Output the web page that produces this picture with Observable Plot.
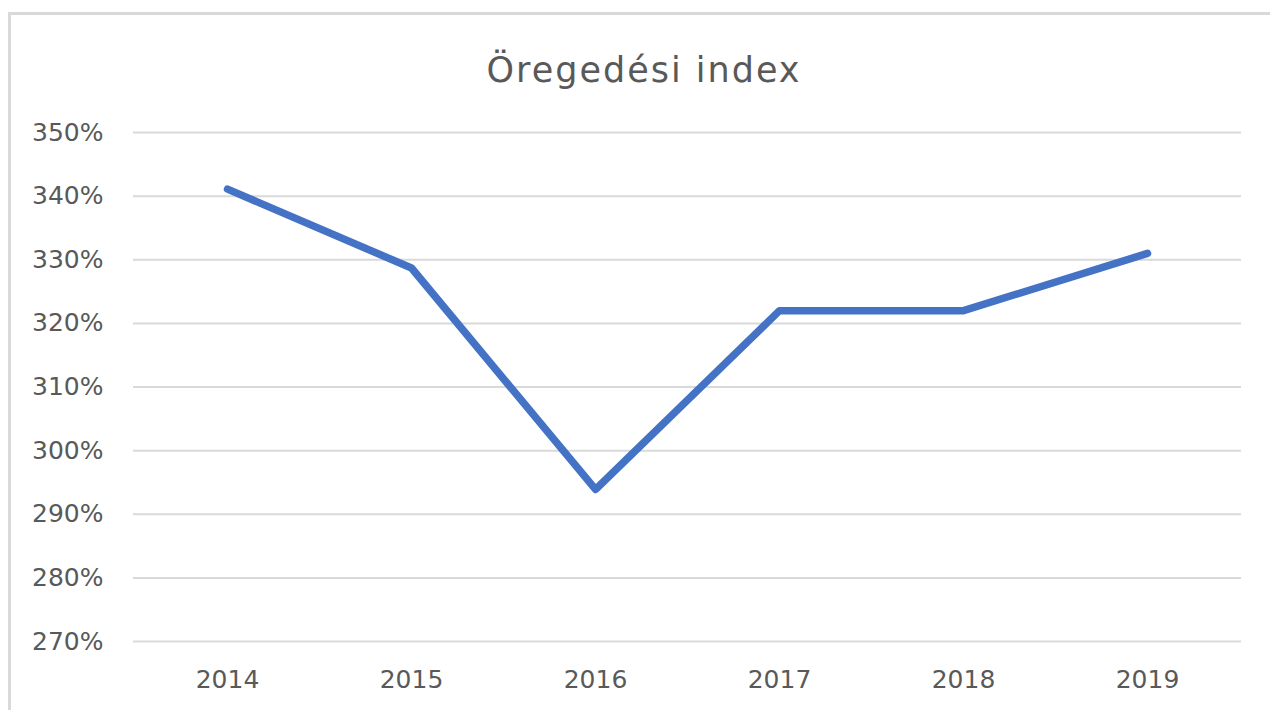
<!DOCTYPE html>
<html>
<head>
<meta charset="utf-8">
<script src="https://cdn.jsdelivr.net/npm/d3@7"></script>
<script src="https://cdn.jsdelivr.net/npm/@observablehq/plot@0.6"></script>
<style>
  html, body { margin: 0; padding: 0; background: #ffffff; overflow: hidden; }
  #frame { position: absolute; left: 8px; top: 12px; width: 1300px; height: 720px;
           border-left: 3px solid #d9d9d9; border-top: 3px solid #d9d9d9; box-sizing: border-box; }
  #title { position: absolute; left: 0; width: 1288px; top: 53px; text-align: center;
           font-family: "DejaVu Sans", sans-serif; font-size: 35px; line-height: 35px;
           letter-spacing: 2px; color: #595959; white-space: nowrap; }
  #chart { position: absolute; left: 0; top: 0; }
</style>
</head>
<body>
<div id="frame"></div>
<div id="title">Öregedési index</div>
<div id="chart"></div>
<script>
const years = ["2014", "2015", "2016", "2017", "2018", "2019"];
const agingIndex = [341.1, 328.7, 293.9, 322.0, 322.0, 331.0];
const yTicks = [270, 280, 290, 300, 310, 320, 330, 340, 350];

const data = years.map((y, i) => ({year: y, value: agingIndex[i]}));

const plot = Plot.plot({
  width: 1270,
  height: 710,
  marginLeft: 133,
  marginRight: 29,
  marginTop: 132,
  marginBottom: 69,
  style: {fontFamily: "'DejaVu Sans', sans-serif", fontSize: "25px", color: "#595959", background: "transparent"},
  x: {type: "point", domain: years, padding: 0.5, label: null},
  y: {domain: [270, 350], label: null},
  marks: [
    Plot.ruleY(yTicks, {stroke: "#d9d9d9", strokeWidth: 2, strokeOpacity: 1}),
    Plot.axisY({ticks: yTicks, tickSize: 0, tickPadding: 30, tickFormat: d => d + "%", fill: "#595959", label: null}),
    Plot.axisX({tickSize: 0, tickPadding: 29, fill: "#595959", label: null}),
    Plot.line(data, {x: "year", y: "value", stroke: "#4472C4", strokeWidth: 7.5, strokeLinecap: "round", strokeLinejoin: "round"})
  ]
});
document.getElementById("chart").appendChild(plot);
</script>
</body>
</html>
